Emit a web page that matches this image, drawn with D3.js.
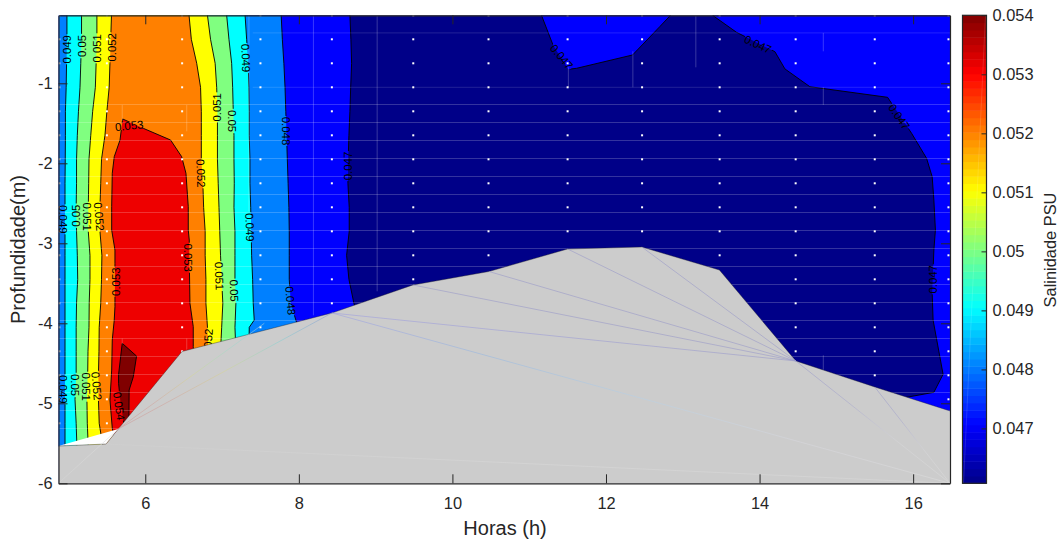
<!DOCTYPE html>
<html>
<head>
<meta charset="utf-8">
<script src="https://cdn.jsdelivr.net/npm/d3@7"></script>
<style>
html,body{margin:0;padding:0;background:#fff;}
svg{display:block;}
text{font-family:"Liberation Sans",Arial,sans-serif;}
</style>
</head>
<body>
<div id="chart"></div>
<script>
// ---- data (hours, depth in m, salinity PSU) ----
const hourDomain = [4.87, 16.48];
const depthDomain = [-6, -0.15];
const hourTicks = [6, 8, 10, 12, 14, 16];
const depthTicks = [-6, -5, -4, -3, -2, -1];
const salinityTicks = [0.047, 0.048, 0.049, 0.05, 0.051, 0.052, 0.053, 0.054];
const salinityDomain = [0.04607, 0.054];

const stationHours = [4.88, 5.5, 6.48, 7.5, 8.43, 9.49, 10.47, 11.5, 12.47, 13.48, 14.47, 15.5, 16.46];
const depthRows = [-0.15,-0.45,-0.75,-1.05,-1.35,-1.65,-1.95,-2.25,-2.55,-2.85,-3.15,-3.45,-3.75,-4.05,-4.35,-4.65,-4.95,-5.25,-5.55];

// isolines: hour at which each level crosses each depth row
const L049 = [4.98,4.98,4.975,4.97,4.96,4.96,4.958,4.955,4.955,4.955,4.955,4.955,4.955,4.955,4.955,4.955,4.955,4.955,4.955];
const L050 = [5.17,5.17,5.16,5.15,5.13,5.115,5.105,5.105,5.10,5.105,5.115,5.12,5.105,5.10,5.10,5.10,5.085,5.10,5.11];
const L051 = [5.37,5.37,5.36,5.35,5.315,5.29,5.267,5.263,5.258,5.258,5.28,5.28,5.27,5.267,5.254,5.25,5.24,5.245,5.258];
const L052 = [5.56,5.55,5.54,5.53,5.50,5.475,5.43,5.42,5.41,5.41,5.435,5.43,5.42,5.40,5.397,5.39,5.39,5.40,5.45];
const R052 = [6.57,6.60,6.67,6.72,6.73,6.73,6.73,6.75,6.76,6.78,6.78,6.79,6.79,6.81,6.82,6.85,6.85,6.85,6.85];
const R051 = [6.81,6.85,6.91,6.93,6.94,6.94,6.94,6.95,6.96,6.97,6.98,6.995,7.01,6.995,6.98,7,7,7,7];
const R050 = [7.06,7.09,7.125,7.138,7.146,7.155,7.155,7.159,7.155,7.168,7.168,7.168,7.18,7.168,7.18,7.2,7.2,7.2,7.2];
const R049 = [7.30,7.32,7.34,7.35,7.354,7.354,7.363,7.363,7.373,7.38,7.385,7.398,7.406,7.354,7.35,7.4,7.4,7.4,7.4];
const R048 = [7.77,7.785,7.805,7.82,7.83,7.84,7.85,7.86,7.87,7.875,7.875,7.875,7.895,7.99,8,8,8,8,8];
const L047 = [8.665,8.678,8.687,8.675,8.665,8.652,8.643,8.639,8.656,8.656,8.622,8.652,8.717,8.8,8.8,8.8,8.8,8.8,8.8];
const R049Kink = [7.419, -3.96];

const topPocket047 = [[11.16,-0.15],[11.31,-0.521],[11.508,-0.825],[11.617,-0.8125],[12.346,-0.646],[12.70,-0.2925],[12.84,-0.15]];
const rightEdge047 = [[13.388,-0.15],[13.70,-0.3625],[14.2,-0.605],[14.33,-0.82],[14.655,-1.0425],[15.667,-1.175],[15.98,-1.625],[16.175,-1.9375],[16.248,-2.1675],[16.27,-2.46],[16.29,-2.834],[16.27,-3.084],[16.248,-3.62],[16.26,-3.96],[16.39,-4.6375],[16.27,-4.8625],[15.914,-4.925]];
const rightCorner = [[16.48,-5.5],[16.48,-0.15]];

const core053 = [[5.706,-1.446],[5.671,-1.709],[5.596,-1.9175],[5.570,-2.125],[5.5625,-2.5425],[5.5625,-2.834],[5.605,-3.084],[5.605,-3.25],[5.605,-3.7925],[5.596,-3.959],[5.570,-4.209],[5.5625,-4.584],[5.54,-4.959],[5.57,-5.309],[5.605,-5.52],[6.647,-5.52],[6.625,-4.2925],[6.625,-4.0425],[6.582,-3.75],[6.573,-3.2],[6.573,-2.959],[6.56,-2.834],[6.56,-2.5425],[6.53,-2.125],[6.474,-1.9175],[6.33,-1.709],[5.974,-1.5625]];
const patch052 = [[6.15,-4.99],[6.21,-4.875],[6.28,-4.84],[6.35,-5.0]];
const core054 = [[5.70,-4.25],[5.887,-4.41],[5.844,-4.67],[5.79,-4.835],[5.787,-5.17],[5.826,-5.27],[5.72,-5.25],[5.674,-4.96],[5.652,-4.75],[5.652,-4.64]];

const seabed = [[4.87,-5.534],[5.49,-5.509],[5.648,-5.321],[6.478,-4.3525],[8.43,-3.871],[9.486,-3.521],[10.475,-3.3525],[11.5,-3.071],[12.467,-3.046],[13.477,-3.334],[14.473,-4.471],[15.5,-4.796],[16.48,-5.096]];
const seabedBase = [[16.48,-6],[4.87,-6]];
const gapTriangle = [[4.87,-5.534],[5.648,-5.321],[5.49,-5.509]];

// faint mesh seams inside the grey patch: from, to, colours along the seam
const bedHub = [14.473,-4.471];
const bedFar = [16.48,-6];
const meshSeams = [
  [[12.467,-3.046], bedHub, ["#9a9ac8","#9a9ac8"]],
  [[11.5,-3.071], bedHub, ["#9a9ac8","#9a9ac8"]],
  [[10.475,-3.3525], bedHub, ["#9a9ac8","#9a9ac8"]],
  [[9.486,-3.521], bedHub, ["#9a9ac8","#9a9ac8"]],
  [[8.43,-3.871], bedHub, ["#a0a0e0","#9a9ac8"]],
  [[8.43,-3.871], bedFar, ["#a0a0e0","#98b8e0","#b8d0e4","#d6d6dc","#dcdcdc"]],
  [bedHub, bedFar, ["#9a9ac8","#a8a8cc","#d6d6d8","#dadada"]],
  [[15.5,-4.796], bedFar, ["#9a9ac8","#a8a8cc","#d6d6d8","#dadada"]],
  [[5.49,-5.509], bedFar, ["#cfcfcf","#d8d8d8","#d8d8d8"]],
  [[4.87,-6], [5.648,-5.321], ["#d4d4d4","#dedede"]],
  [[5.648,-5.321], [7.55,-4.0], ["#cc9a9a","#d0a8a0","#d4d49a","#a8d8c8","#a0c8d8"]],
  [[5.648,-5.321], [8.43,-3.871], ["#cc9a9a","#d0a8a0","#d4d49a","#8ed0d0","#8a9ad0"]]
];

// pale seams of the contour patches
const paleRows = [-0.37,-1.05,-1.265,-1.49,-1.715,-1.94,-2.165,-2.39,-2.615,-2.84,-3.065,-3.29,-3.515,-3.74,-3.965,-4.19,-4.415,-4.64,-4.865,-5.09,-5.315];
const paleColumns = [[8.19,-0.15,-3.9],[9.02,-0.15,-3.6],[7.35,-0.15,-2.6],[5.70,-1.27,-1.47],[6.54,-1.27,-1.6],[5.70,-4.19,-4.26],[6.54,-4.19,-4.33],[11.51,-0.8,-1.05],[12.35,-0.6,-1.05],[13.17,-0.15,-0.8],[14.83,-0.37,-0.6],[14.83,-1.05,-1.27],[14.83,-4.4,-4.64]];

// contour labels: text, hour, depth, rotation
const contourLabels = [
  ["0.049",4.984,-0.575,-90],["0.05",5.18,-0.534,-90],["0.051",5.375,-0.5625,-90],["0.052",5.57,-0.55,-90],
  ["0.053",5.79,-1.53,-6],["0.049",7.311,-0.684,88],["0.051",6.9375,-1.30,-90],["0.05",7.125,-1.471,90],
  ["0.048",7.832,-1.596,90],["0.052",6.725,-2.125,88],["0.049",4.932,-2.70,90],["0.05",5.098,-2.655,-90],
  ["0.051",5.245,-2.6675,90],["0.052",5.40,-2.6675,85],["0.053",5.615,-3.48,-90],["0.053",6.56,-3.18,90],
  ["0.051",6.964,-3.409,88],["0.05",7.159,-3.5925,88],["0.049",7.363,-2.80,88],["0.048",7.893,-3.7175,85],
  ["0.052",6.816,-4.246,-87],["0.049",4.932,-4.825,90],["0.05",5.085,-4.771,90],["0.051",5.224,-4.7925,90],
  ["0.052",5.367,-4.784,85],["0.054",5.658,-5.034,82],["0.047",8.643,-2.034,-90],["0.047",11.422,-0.6675,50],
  ["0.047",13.978,-0.5125,25],["0.047",15.818,-1.4175,55],["0.047",16.26,-3.45,-90]
];

// one flat colour per contour band, lowest band first
const bandColors = ["#000088","#0000ff","#0080ff","#00ffff","#80ff80","#ffff00","#ff8000","#ee0000","#800000"];
const jetStops = [[0,"#000088"],[0.125,"#0000ff"],[0.375,"#00ffff"],[0.625,"#ffff00"],[0.875,"#ff0000"],[1,"#800000"]];
const colorbarSteps = 64;

// ---- layout ----
const W = 1062, H = 543;
const plot = {l:58.5, r:950, t:15.3, b:483.3};
const cbar = {l:962.5, r:986.5};
const ink = "#262626";

const x = d3.scaleLinear().domain(hourDomain).range([plot.l, plot.r]);
const y = d3.scaleLinear().domain(depthDomain).range([plot.b, plot.t]);
const cy = d3.scaleLinear().domain(salinityDomain).range([plot.b, plot.t]);
const jet = d3.scaleLinear().domain(jetStops.map(d => d[0])).range(jetStops.map(d => d[1])).interpolate(d3.interpolateRgb);

const line = d3.line().x(d => x(d[0])).y(d => y(d[1]));
const closed = pts => line(pts) + "Z";
const iso = hours => hours.map((h, i) => [h, depthRows[i]]);

const svg = d3.select("#chart").append("svg").attr("width", W).attr("height", H);
const defs = svg.append("defs");
defs.append("clipPath").attr("id", "plotClip").append("rect")
  .attr("x", plot.l).attr("y", plot.t).attr("width", plot.r - plot.l).attr("height", plot.b - plot.t);

// gaps in the contour lines under the labels
const gapMask = defs.append("mask").attr("id", "labelGaps").attr("maskUnits", "userSpaceOnUse")
  .attr("x", 0).attr("y", 0).attr("width", W).attr("height", H);
gapMask.append("rect").attr("width", W).attr("height", H).attr("fill", "#fff");
gapMask.selectAll("rect.g").data(contourLabels).join("rect").attr("class", "g")
  .attr("x", d => -(d[0].length * 5.6 + 2) / 2).attr("y", -3.5)
  .attr("width", d => d[0].length * 5.6 + 2).attr("height", 7).attr("fill", "#000")
  .attr("transform", d => `translate(${x(d[1])},${y(d[2])}) rotate(${d[3]})`);

const g = svg.append("g").attr("clip-path", "url(#plotClip)");

// bands, lowest first
const [hL, hR] = hourDomain;
const depthTop = depthDomain[1], lowRow = depthRows[depthRows.length - 1];
const r049pts = iso(R049); r049pts.splice(13, 0, R049Kink);
const l047pts = iso(L047);
const band = (a, b) => a.concat(b.slice().reverse());

g.append("rect").attr("x", plot.l).attr("y", plot.t).attr("width", plot.r - plot.l).attr("height", plot.b - plot.t).attr("fill", bandColors[0]);
const fills = [
  [closed(band([[hL, depthTop], [hL, lowRow]], l047pts)), bandColors[1]],
  [closed(topPocket047), bandColors[1]],
  [closed(rightEdge047.concat(rightCorner)), bandColors[1]],
  [closed(band([[hL, depthTop], [hL, lowRow]], iso(R048))), bandColors[2]],
  [closed(band(iso(L049), r049pts)), bandColors[3]],
  [closed(band(iso(L050), iso(R050))), bandColors[4]],
  [closed(band(iso(L051), iso(R051))), bandColors[5]],
  [closed(band(iso(L052), iso(R052))), bandColors[6]],
  [closed(core053), bandColors[7]],
  [closed(patch052), bandColors[6]],
  [closed(core054), bandColors[8]]
];
g.selectAll("path.band").data(fills).join("path").attr("class", "band")
  .attr("d", d => d[0]).attr("fill", d => d[1]);

// contour lines
const isoLines = [iso(L049), iso(L050), iso(L051), iso(L052), iso(R052), iso(R051), iso(R050), r049pts, iso(R048), l047pts, topPocket047, rightEdge047];
const lineGroup = g.append("g").attr("mask", "url(#labelGaps)");
lineGroup.selectAll("path.iso").data(isoLines).join("path").attr("class", "iso")
  .attr("d", line).attr("fill", "none").attr("stroke", "#000").attr("stroke-width", 0.9);
lineGroup.selectAll("path.ring").data([core053, patch052, core054]).join("path").attr("class", "ring")
  .attr("d", closed).attr("fill", "none").attr("stroke", "#000").attr("stroke-width", 0.9);

// pale seams
g.selectAll("line.row").data(paleRows).join("line").attr("class", "row")
  .attr("x1", d => d > -1.2 ? x(7.4) : plot.l).attr("x2", plot.r)
  .attr("y1", d => y(d)).attr("y2", d => y(d))
  .attr("stroke", "#fff").attr("stroke-width", 1).attr("stroke-opacity", d => d > -1.2 ? 0.13 : 0.2);
g.selectAll("line.col").data(paleColumns).join("line").attr("class", "col")
  .attr("x1", d => x(d[0])).attr("x2", d => x(d[0]))
  .attr("y1", d => y(d[1])).attr("y2", d => y(d[2]))
  .attr("stroke", "#fff").attr("stroke-width", 1).attr("stroke-opacity", 0.22);

// measurement stations
const stations = d3.cross(stationHours, depthRows);
g.selectAll("rect.st").data(stations).join("rect").attr("class", "st")
  .attr("x", d => x(d[0]) - 1).attr("y", d => y(d[1]) - 1).attr("width", 2).attr("height", 2)
  .attr("fill", "#fff");

// contour labels
g.selectAll("text.cl").data(contourLabels).join("text").attr("class", "cl")
  .attr("transform", d => `translate(${x(d[1])},${y(d[2])}) rotate(${d[3]})`)
  .attr("text-anchor", "middle").attr("dy", "0.36em").attr("font-size", 11.4).attr("fill", "#000")
  .text(d => d[0]);

// bottom patch
g.append("path").attr("d", closed(gapTriangle)).attr("fill", "#fff");
g.append("path").attr("d", closed(seabed.concat(seabedBase))).attr("fill", "#cccccc");
g.append("path").attr("d", line(seabed)).attr("fill", "none").attr("stroke", "#222").attr("stroke-width", 0.7).attr("stroke-opacity", 0.55);

meshSeams.forEach((s, i) => {
  const grad = defs.append("linearGradient").attr("id", "seam" + i).attr("gradientUnits", "userSpaceOnUse")
    .attr("x1", x(s[0][0])).attr("y1", y(s[0][1])).attr("x2", x(s[1][0])).attr("y2", y(s[1][1]));
  s[2].forEach((c, k) => grad.append("stop").attr("offset", k / (s[2].length - 1)).attr("stop-color", c));
  g.append("line").attr("x1", x(s[0][0])).attr("y1", y(s[0][1])).attr("x2", x(s[1][0]) + 0.01).attr("y2", y(s[1][1]) + 0.01)
    .attr("stroke", `url(#seam${i})`).attr("stroke-width", 0.6);
});

// axes
function styleAxis(sel) {
  sel.selectAll("path.domain").attr("stroke", ink).attr("stroke-width", 1.2);
  sel.selectAll(".tick line").attr("stroke", ink).attr("stroke-width", 1);
  sel.selectAll("text").attr("fill", ink).attr("font-size", 16.4).attr("font-family", '"Liberation Sans",Arial,sans-serif');
}
const axB = d3.axisBottom(x).tickValues(hourTicks).tickSizeInner(-9).tickSizeOuter(0).tickPadding(14).tickFormat(String);
const axT = d3.axisTop(x).tickValues(hourTicks).tickSizeInner(-9).tickSizeOuter(0).tickFormat("");
const axL = d3.axisLeft(y).tickValues(depthTicks).tickSizeInner(-9).tickSizeOuter(0).tickPadding(6).tickFormat(String);
const axR = d3.axisRight(y).tickValues(depthTicks).tickSizeInner(-9).tickSizeOuter(0).tickFormat("");
svg.append("g").attr("transform", `translate(0,${plot.b})`).call(axB).call(styleAxis);
svg.append("g").attr("transform", `translate(0,${plot.t})`).call(axT).call(styleAxis);
svg.append("g").attr("transform", `translate(${plot.l},0)`).call(axL).call(styleAxis);
svg.append("g").attr("transform", `translate(${plot.r},0)`).call(axR).call(styleAxis);

svg.append("text").attr("x", 505).attr("y", 535).attr("text-anchor", "middle").attr("font-size", 20).attr("fill", ink).text("Horas (h)");
svg.append("text").attr("transform", "translate(25,249.5) rotate(-90)").attr("text-anchor", "middle").attr("font-size", 20).attr("fill", ink).text("Profundidade(m)");

// colour bar
const stepV = (salinityDomain[1] - salinityDomain[0]) / colorbarSteps;
svg.selectAll("rect.cb").data(d3.range(colorbarSteps)).join("rect").attr("class", "cb")
  .attr("x", cbar.l).attr("width", cbar.r - cbar.l)
  .attr("y", i => cy(salinityDomain[0] + (i + 1) * stepV)).attr("height", i => cy(salinityDomain[0] + i * stepV) - cy(salinityDomain[0] + (i + 1) * stepV) + 0.5)
  .attr("fill", i => jet((i + 0.5) / colorbarSteps));
svg.append("line").attr("x1", cbar.r - 1).attr("x2", cbar.l + 1).attr("y1", cy(salinityDomain[1])).attr("y2", cy(salinityDomain[0]))
  .attr("stroke", "#fff").attr("stroke-width", 0.7).attr("stroke-opacity", 0.18);
svg.append("rect").attr("x", cbar.l).attr("y", plot.t).attr("width", cbar.r - cbar.l).attr("height", plot.b - plot.t)
  .attr("fill", "none").attr("stroke", ink).attr("stroke-width", 1.2);
const axC = d3.axisRight(cy).tickValues(salinityTicks).tickSizeInner(-5).tickSizeOuter(0).tickPadding(6).tickFormat(d => d3.format(".3~f")(d));
svg.append("g").attr("transform", `translate(${cbar.r},0)`).call(axC).call(styleAxis).select("path.domain").remove();
svg.append("text").attr("transform", "translate(1055.5,250) rotate(-90)").attr("text-anchor", "middle").attr("font-size", 16.4).attr("fill", ink).text("Salinidade PSU");
</script>
</body>
</html>
